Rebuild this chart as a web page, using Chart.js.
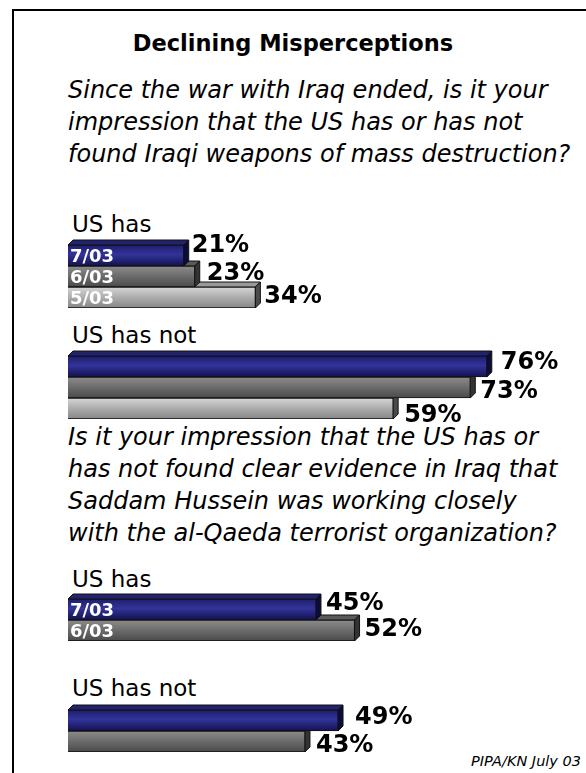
<!DOCTYPE html>
<html>
<head>
<meta charset="utf-8">
<script src="https://cdn.jsdelivr.net/npm/chart.js@4.4.0/dist/chart.umd.min.js"></script>
<style>
  html, body { margin: 0; padding: 0; background: #fff; }
  body { width: 586px; height: 773px; position: relative; overflow: hidden; font-family: "DejaVu Sans", sans-serif; color: #000; }
  .frame { position: absolute; left: 12px; top: 9px; width: 600px; height: 800px; border-top: 2px solid #000; border-left: 2px solid #000; }
  .txt { position: absolute; white-space: nowrap; line-height: 1; }
  .title { left: 0; width: 586px; text-align: center; font-weight: bold; font-size: 22.5px; }
  .q { left: 68px; font-style: italic; font-size: 24px; }
  .cat { left: 72px; font-size: 23px; }
  .src { right: 5px; font-style: italic; font-size: 14.5px; }
  canvas.grp { position: absolute; left: 0; }
</style>
</head>
<body>
<div class="frame"></div>

<div class="txt title" style="top:32px">Declining Misperceptions</div>

<div class="txt q" style="top:78px">Since the war with Iraq ended, is it your</div>
<div class="txt q" style="top:110px">impression that the US has or has not</div>
<div class="txt q" style="top:142px">found Iraqi weapons of mass destruction?</div>

<div class="txt q" style="top:425px">Is it your impression that the US has or</div>
<div class="txt q" style="top:457px">has not found clear evidence in Iraq that</div>
<div class="txt q" style="top:489px">Saddam Hussein was working closely</div>
<div class="txt q" style="top:521px">with the al-Qaeda terrorist organization?</div>

<div class="txt cat" id="cat0" style="top:213px"></div>
<div class="txt cat" id="cat1" style="top:324px"></div>
<div class="txt cat" id="cat2" style="top:568px"></div>
<div class="txt cat" id="cat3" style="top:677px"></div>

<div class="txt src" style="top:754px">PIPA/KN July 03</div>

<canvas class="grp" id="g0"></canvas>
<canvas class="grp" id="g1"></canvas>
<canvas class="grp" id="g2"></canvas>
<canvas class="grp" id="g3"></canvas>

<script>
// survey waves
const waves3 = ['7/03', '6/03', '5/03'];
const waves2 = ['7/03', '6/03'];

// answers, percent
const groupLabels = ['US has', 'US has not', 'US has', 'US has not'];
const wmdHas = [21, 23, 34];
const wmdHasNot = [76, 73, 59];
const qaedaHas = [45, 52];
const qaedaHasNot = [49, 43];

// colours per wave: front gradient stops, top face, side face
const waveStyle = {
    '7/03': { stops: ['#1e1e6c', '#33339a', '#121250'], top: '#22226e', side: '#0c0c3c' },
    '6/03': { stops: ['#8c8c8c', '#6e6e6e', '#4a4a4a'], top: '#5a5a5a', side: '#333333' },
    '5/03': { stops: ['#d6d6d6', '#b0b0b0', '#868686'], top: '#999999', side: '#4a4a4a' }
};

const DEPTH = 5;
const BAR_H = 21;
const PAD = 14;

// bar-relative label offsets [dx, dy] so numbers sit like the original
const groups = [
    { id: 'g0', labels: waves3, values: wmdHas, frontTop: 245, inBar: true, off: [[3, -10], [7, -3], [4, -1]] },
    { id: 'g1', labels: waves3, values: wmdHasNot, frontTop: 356, inBar: false, off: [[9, -4], [5, 4], [6, 7]] },
    { id: 'g2', labels: waves2, values: qaedaHas, frontTop: 599, inBar: true, off: [[5, -6], [5, -1]] },
    { id: 'g3', labels: waves2, values: qaedaHasNot, frontTop: 710, inBar: false, off: [[12, -3], [6, 4]] }
];

groupLabels.forEach((t, i) => {
    document.getElementById('cat' + i).textContent = t;
});

function frontFill(ctx) {
    const chart = ctx.chart;
    const wave = chart.data.labels[ctx.dataIndex];
    const st = waveStyle[wave];
    if (!st) return '#888';
    const area = chart.chartArea;
    if (!area || !chart.scales.y) return st.stops[1];
    const n = chart.data.labels.length;
    const half = (area.bottom - area.top) / n / 2;
    const cy = chart.scales.y.getPixelForValue(ctx.dataIndex);
    const g = chart.ctx.createLinearGradient(0, cy - half, 0, cy + half);
    g.addColorStop(0, st.stops[0]);
    g.addColorStop(0.45, st.stops[1]);
    g.addColorStop(1, st.stops[2]);
    return g;
}

const bars3d = {
    id: 'bars3d',
    beforeDatasetsDraw(chart) {
        const c = chart.ctx;
        const meta = chart.getDatasetMeta(0);
        c.save();
        c.lineWidth = 1;
        c.strokeStyle = '#111';
        // bottom bar first, so upper faces cover it
        for (let i = meta.data.length - 1; i >= 0; i--) {
            const b = meta.data[i].getProps(['x', 'y', 'base', 'height'], true);
            const st = waveStyle[chart.data.labels[i]];
            const top = b.y - b.height / 2;
            const bot = b.y + b.height / 2;
            c.fillStyle = st.top;
            c.beginPath();
            c.moveTo(b.base, top);
            c.lineTo(b.base + DEPTH, top - DEPTH);
            c.lineTo(b.x + DEPTH, top - DEPTH);
            c.lineTo(b.x, top);
            c.closePath();
            c.fill();
            c.stroke();
            c.fillStyle = st.side;
            c.beginPath();
            c.moveTo(b.x, top);
            c.lineTo(b.x + DEPTH, top - DEPTH);
            c.lineTo(b.x + DEPTH, bot - DEPTH);
            c.lineTo(b.x, bot);
            c.closePath();
            c.fill();
            c.stroke();
        }
        c.restore();
    },
    afterDatasetsDraw(chart, args, opts) {
        const c = chart.ctx;
        const meta = chart.getDatasetMeta(0);
        const vals = chart.data.datasets[0].data;
        c.save();
        c.textBaseline = 'middle';
        meta.data.forEach((el, i) => {
            const b = el.getProps(['x', 'y', 'base', 'height'], true);
            const o = opts.off[i] || [5, 0];
            c.fillStyle = '#000';
            c.font = 'bold 24px "DejaVu Sans"';
            c.textAlign = 'left';
            c.fillText(vals[i] + '%', b.x + DEPTH + o[0], b.y + o[1]);
            if (opts.inBar) {
                c.fillStyle = '#fff';
                c.font = 'bold 18px "DejaVu Sans"';
                c.fillText(chart.data.labels[i], b.base + 2, b.y + 2);
            }
        });
        c.restore();
    }
};

groups.forEach(g => {
    const cv = document.getElementById(g.id);
    const h = PAD + g.values.length * BAR_H + PAD;
    cv.width = 586;
    cv.height = h;
    cv.style.top = (g.frontTop - PAD) + 'px';
    new Chart(cv, {
        type: 'bar',
        data: {
            labels: g.labels,
            datasets: [{
                data: g.values,
                backgroundColor: frontFill,
                borderColor: '#111',
                borderWidth: 1,
                categoryPercentage: 1,
                barPercentage: 1
            }]
        },
        options: {
            indexAxis: 'y',
            responsive: false,
            animation: false,
            layout: { padding: { left: 68, right: 0, top: PAD, bottom: PAD } },
            scales: {
                x: { display: false, min: 0, max: 94 },
                y: { display: false }
            },
            plugins: {
                legend: { display: false },
                tooltip: { enabled: false },
                bars3d: { off: g.off, inBar: g.inBar }
            }
        },
        plugins: [bars3d]
    });
});
</script>
</body>
</html>
